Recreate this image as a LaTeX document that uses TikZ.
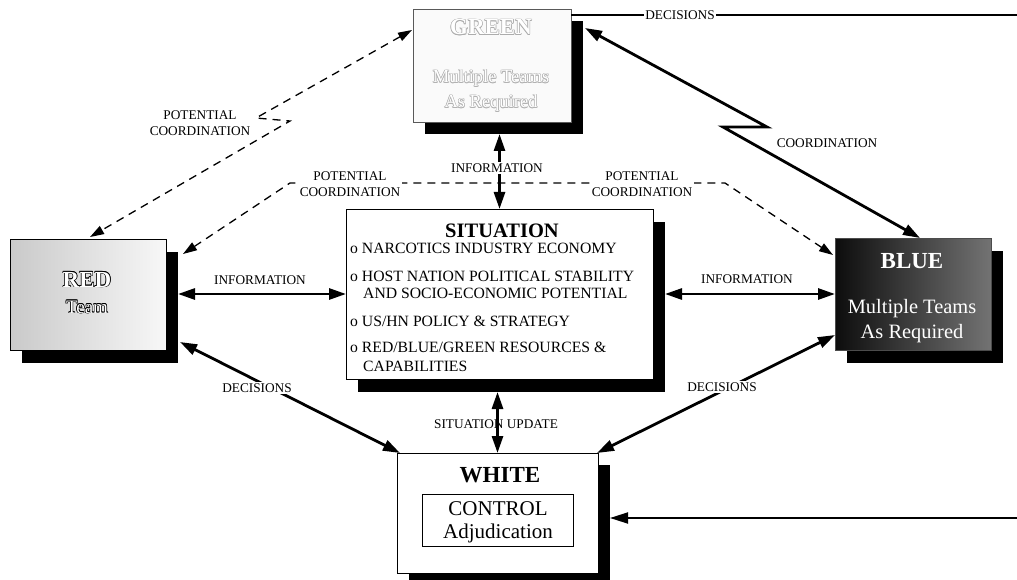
\documentclass[tikz,border=0pt]{standalone}
\usepackage{fontspec}
\setmainfont{Liberation Serif}
\usetikzlibrary{arrows.meta,calc}

% hollow lettering: outline colour #1, fill colour #2, text #3
\newcommand\outlined[3]{\leavevmode
  \rlap{\color{#1}\kern-.6pt#3}%
  \rlap{\color{#1}\kern.6pt#3}%
  \rlap{\color{#1}\raisebox{.6pt}{#3}}%
  \rlap{\color{#1}\raisebox{-.6pt}{#3}}%
  \rlap{\color{#1}\kern-.45pt\raisebox{.45pt}{#3}}%
  \rlap{\color{#1}\kern.45pt\raisebox{.45pt}{#3}}%
  \rlap{\color{#1}\kern-.45pt\raisebox{-.45pt}{#3}}%
  \rlap{\color{#1}\kern.45pt\raisebox{-.45pt}{#3}}%
  {\color{#2}#3}}

\tikzset{
  box/.style={draw=black, line width=0.8pt, inner sep=0pt, outer sep=0pt},
  backdrop/.style={fill=black, draw=none, inner sep=0pt, outer sep=0pt},
  link/.style={line width=2.8pt,
    {Triangle[length=17pt,width=11pt]}-{Triangle[length=17pt,width=11pt]}},
  bolt/.style={link, line join=miter},
  dlink/.style={line width=1.3pt, dash pattern=on 8pt off 6pt,
    {Triangle[length=14pt,width=9pt]}-{Triangle[length=14pt,width=9pt]}},
  wire/.style={line width=1.8pt},
  wirearrow/.style={line width=1.8pt, -{Triangle[length=18pt,width=11pt]}},
  lab/.style={font=\fontsize{13.3}{16}\selectfont, inner sep=1.5pt, align=center},
  labw/.style={lab, fill=white},
  item/.style={anchor=base west, inner sep=0pt, font=\fontsize{15.7}{16}\selectfont},
}

\begin{document}
\begin{tikzpicture}[x=1pt,y=-1pt]
\fill[white] (0,0) rectangle (1017,580);
\useasboundingbox (0,0) rectangle (1017,580);

% ---------- GREEN ----------
\node[backdrop, minimum width=158pt, minimum height=113pt] (greenS) at (504,77.5) {};
\node[box, fill=gray!4, draw=gray!70!black, minimum width=158pt, minimum height=113pt] (green) at (492,65.5) {};
\node[anchor=base, inner sep=0pt, font=\fontsize{23}{24}\selectfont\bfseries] (greenT) at (491,35) {\outlined{gray!65}{white}{GREEN}};
\node[anchor=base, inner sep=0pt, font=\fontsize{18.5}{20}\selectfont] (greenT2) at (491,83) {\outlined{gray!60}{white}{Multiple Teams}};
\node[anchor=base, inner sep=0pt, font=\fontsize{18.5}{20}\selectfont] (greenT3) at (491,108) {\outlined{gray!60}{white}{As Required}};

% ---------- RED ----------
\node[backdrop, minimum width=156pt, minimum height=111pt] (redS) at (100,307.5) {};
\node[box, left color=gray!42, right color=gray!6, minimum width=156pt, minimum height=111pt] (red) at (88,294.5) {};
\node[anchor=base, inner sep=0pt, font=\fontsize{23}{24}\selectfont\bfseries] (redT) at (87,287) {\outlined{black}{white}{RED}};
\node[anchor=base, inner sep=0pt, font=\fontsize{19}{20}\selectfont] (redT2) at (87,313) {\outlined{black}{white}{Team}};

% ---------- SITUATION ----------
\node[backdrop, minimum width=307pt, minimum height=170pt] (sitS) at (511.5,307) {};
\node[box, fill=white, minimum width=307pt, minimum height=170pt] (sit) at (499.5,294) {};
\node[anchor=base, inner sep=0pt, font=\fontsize{20.5}{22}\selectfont\bfseries] (sitT) at (502,237) {SITUATION};
\node[item] (s1) at (350,253) {o NARCOTICS INDUSTRY ECONOMY};
\node[item] (s2) at (350,281) {o HOST NATION POLITICAL STABILITY};
\node[item] (s2b) at (363,298) {AND SOCIO-ECONOMIC POTENTIAL};
\node[item] (s3) at (350,326) {o US/HN POLICY \& STRATEGY};
\node[item] (s4) at (350,352) {o RED/BLUE/GREEN RESOURCES \&};
\node[item] (s4b) at (363,371) {CAPABILITIES};

% ---------- BLUE ----------
\node[backdrop, minimum width=156pt, minimum height=112pt] (blueS) at (925,307) {};
\node[box, left color=black!95, right color=black!55, draw=gray!60!black, minimum width=156pt, minimum height=112pt] (blue) at (913,294) {};
\node[anchor=base, inner sep=0pt, text=white, font=\fontsize{23}{24}\selectfont\bfseries] (blueT) at (912,268) {BLUE};
\node[anchor=base, inner sep=0pt, text=white, font=\fontsize{20.4}{22}\selectfont] (blueT2) at (912,313) {Multiple Teams};
\node[anchor=base, inner sep=0pt, text=white, font=\fontsize{20.4}{22}\selectfont] (blueT3) at (912,338) {As Required};

% ---------- WHITE ----------
\node[backdrop, minimum width=201pt, minimum height=120pt] (whiteS) at (509.5,525) {};
\node[box, fill=white, minimum width=201pt, minimum height=120pt] (white) at (497.5,513) {};
\node[anchor=base, inner sep=0pt, font=\fontsize{23}{24}\selectfont\bfseries] (whiteT) at (500,482) {WHITE};
\node[box, line width=0.7pt, minimum width=151pt, minimum height=52pt] (ctrl) at (497.5,520) {};
\node[anchor=base, inner sep=0pt, font=\fontsize{21}{22}\selectfont] (ctrlT) at (498,515) {CONTROL};
\node[anchor=base, inner sep=0pt, font=\fontsize{21}{22}\selectfont] (ctrlT2) at (498,538) {Adjudication};

% ---------- connectors ----------
% outside feeds
\coordinate (edgeTop) at (1017,15);
\coordinate (edgeBot) at (1017,518);
\draw[wire] (green.east |- edgeTop) -- (edgeTop);
\draw[wirearrow] (edgeBot) -- (edgeBot -| whiteS.east);

% information flows
\draw[link] (sit.north |- greenS.south) -- (sit.north);
\draw[link] (sit.west -| redS.east) -- (sit.west);
\draw[link] (blue.west -| sitS.east) -- (blue.west);
\draw[link] (white.north |- sitS.south) -- (white.north);

% decisions
\draw[link] ($(redS.south east)+(2,-21)$) -- ($(white.north west)+(3,0)$);
\draw[link] ($(blue.south west)+(0,-15)$) -- ($(white.north east)+(-1,0)$);

% coordination bolt between GREEN and BLUE
\coordinate (gb1) at (767,127);
\coordinate (gb2) at (723,127);
\draw[bolt] ($(greenS.north east)+(2,7)$) -- (gb1) -- (gb2) -- ($(blue.north)+(7,0)$);

% potential coordination (dashed)
\coordinate (rg1) at (256,118);
\coordinate (rg2) at (290,121);
\draw[dlink] ($(green.north west)+(-1,21)$) -- (rg1) -- (rg2) -- ($(red.north)+(2,-2)$);
\coordinate (rb1) at (290,183);
\coordinate (rb2) at (725,183);
\draw[dlink] ($(redS.north east)+(5,2)$) -- (rb1) -- (rb2) -- ($(blue.north west)+(-2,17)$);

% ---------- labels ----------
\node[labw] (decTop) at (680,15) {DECISIONS};
\node[labw] (infoG) at (497,168) {INFORMATION};
\node[lab] (infoR) at (260,280) {INFORMATION};
\node[lab] (infoB) at (747,279) {INFORMATION};
\node[lab] (upd) at (496,424) {SITUATION UPDATE};
\node[labw] (decR) at (257,388) {DECISIONS};
\node[labw] (decB) at (722,387) {DECISIONS};
\node[lab] (coord) at (827,143) {COORDINATION};
\node[lab] (potUL) at (200,123) {POTENTIAL\\COORDINATION};
\node[labw] (potL) at (350,184) {POTENTIAL\\COORDINATION};
\node[labw] (potR) at (642,184) {POTENTIAL\\COORDINATION};
\end{tikzpicture}
\end{document}
